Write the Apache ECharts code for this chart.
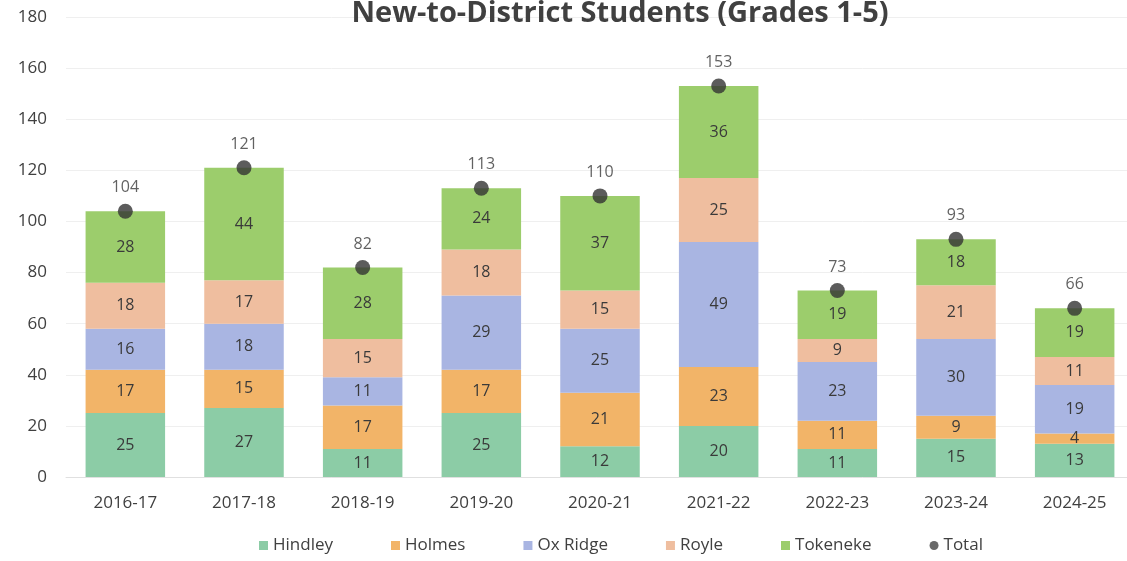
<!DOCTYPE html>
<html><head><meta charset="utf-8">
<script src="https://cdn.jsdelivr.net/npm/echarts@6/dist/echarts.min.js"></script>
<style>html,body{margin:0;padding:0;background:#fff}#c{width:1127px;height:561px}</style>
</head><body><div id="c"></div>
<script>
const categories = ['2016-17','2017-18','2018-19','2019-20','2020-21','2021-22','2022-23','2023-24','2024-25'];
const hindley  = [25,27,11,25,12,20,11,15,13];
const holmes   = [17,15,17,17,21,23,11,9,4];
const oxRidge  = [16,18,11,29,25,49,23,30,19];
const royle    = [18,17,15,18,15,25,9,21,11];
const tokeneke = [28,44,28,24,37,36,19,18,19];
const total    = [104,121,82,113,110,153,73,93,66];
const yTicks = [0,180,20];

const colors = ['#8ccca6','#f2b468','#a9b5e2','#efbe9f','#9ccd6c'];
const names = ['Hindley','Holmes','Ox Ridge','Royle','Tokeneke'];
const datas = [hindley,holmes,oxRidge,royle,tokeneke];
const font = 'Open Sans';

const series = datas.map((d,i)=>({
  name: names[i], type:'bar', stack:'s', data:d, barWidth:'67%',
  itemStyle:{color:colors[i]},
  label:{show:true, position:'inside', color:'#3a3a3a', fontSize:16, fontFamily:font}
}));
series.push({
  name:'Total', type:'scatter', data: total, symbolSize:15,
  itemStyle:{color:'#333333'}, z:5,
  label:{show:true, position:'top', distance:8, color:'#3a3a3a', fontSize:16, fontFamily:font}
});

const chart = echarts.init(document.getElementById('c'));
chart.setOption({
  animation:false,
  title:{text:'New-to-District Students (Grades 1-5)', left:615, textAlign:'center', top:-6,
    textStyle:{fontSize:29, fontWeight:'bold', color:'#404040', fontFamily:font}},
  grid:{left:66, right:-7, top:17, bottom:84, outerBoundsMode:'none', containLabel:false},
  legend:{bottom:2, left:254, itemWidth:9, itemHeight:9, itemGap:58,
    textStyle:{fontSize:17, color:'#404040', fontFamily:font},
    data:[...names.map(n=>({name:n, icon:'rect'})), {name:'Total', icon:'circle', itemStyle:{color:'#444'}}]},
  xAxis:{type:'category', data:categories,
    axisLine:{lineStyle:{color:'#e0e0e0'}}, axisTick:{show:false},
    axisLabel:{fontSize:17, color:'#404040', fontFamily:font, margin:18}},
  yAxis:{type:'value', min:yTicks[0], max:yTicks[1], interval:yTicks[2],
    axisLabel:{fontSize:17, color:'#404040', fontFamily:font, margin:19, align:'right'},
    splitLine:{lineStyle:{color:'#efefef'}}},
  series
});
</script></body></html>
